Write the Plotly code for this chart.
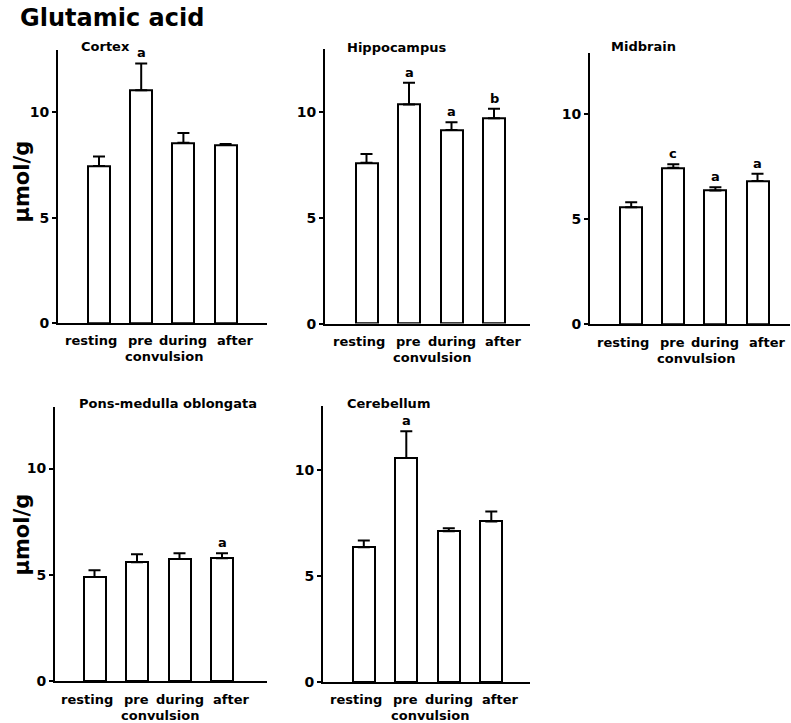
import plotly.graph_objects as go

# ---------------- data ----------------
categories = ["resting", "pre", "during", "after"]
group_label = "convulsion"
regions = ["Cortex", "Hippocampus", "Midbrain", "Pons-medulla oblongata", "Cerebellum"]

cortex_mean = [7.45, 11.05, 8.55, 8.45]
cortex_sem = [0.45, 1.27, 0.47, 0.05]
cortex_sig = ["", "a", "", ""]

hippocampus_mean = [7.6, 10.35, 9.15, 9.7]
hippocampus_sem = [0.42, 1.03, 0.37, 0.45]
hippocampus_sig = ["", "a", "a", "b"]

midbrain_mean = [5.55, 7.43, 6.35, 6.8]
midbrain_sem = [0.24, 0.16, 0.15, 0.34]
midbrain_sig = ["", "c", "a", "a"]

pons_mean = [4.9, 5.6, 5.75, 5.78]
pons_sem = [0.32, 0.37, 0.27, 0.24]
pons_sig = ["", "", "", "a"]

cerebellum_mean = [6.34, 10.55, 7.09, 7.56]
cerebellum_sem = [0.32, 1.26, 0.15, 0.47]
cerebellum_sig = ["", "a", "", ""]

y_ticks = [0, 5, 10]
title_text = "Glutamic acid"
y_title = "µmol/g"

# ---------------- layout helpers ----------------
# reference frame is 791 x 723; the figure is drawn slightly taller so that the
# photographed page maps 1:1 onto the reference frame
REF_W, REF_H = 791, 723
W, H = 791, 733
FONT = "DejaVu Sans"


def px(x):
    return x / REF_W


def py(y):
    return 1 - y / REF_H


# xl/xr: axis extent (px), c0: first bar centre (px), sp: bar spacing (px)
panels = [
    dict(xl=58, xr=267, c0=99.0, sp=42.2, base=322.0, unit=21.0, ytop=50, tx=79, ty=46),
    dict(xl=325, xr=530, c0=366.5, sp=42.5, base=322.7, unit=21.1, ytop=49, tx=345, ty=47),
    dict(xl=590, xr=790, c0=631.2, sp=42.1, base=323.3, unit=21.0, ytop=53, tx=609, ty=46),
    dict(xl=55, xr=267, c0=94.5, sp=42.5, base=679.3, unit=21.2, ytop=406, tx=77, ty=402),
    dict(xl=323, xr=530, c0=363.8, sp=42.5, base=680.0, unit=21.17, ytop=405, tx=345, ty=402),
]
# horizontal nudges (px) of the category labels, as in the reference
label_shift = [-8, -1, 0, 9]

means = [cortex_mean, hippocampus_mean, midbrain_mean, pons_mean, cerebellum_mean]
sems = [cortex_sem, hippocampus_sem, midbrain_sem, pons_sem, cerebellum_sem]
sigs = [cortex_sig, hippocampus_sig, midbrain_sig, pons_sig, cerebellum_sig]

small_font = dict(family=FONT, size=13, color="black", weight="bold")

fig = go.Figure()
annotations = []

for i, (p, m, s, sg, name) in enumerate(zip(panels, means, sems, sigs, regions)):
    n = i + 1
    xa = "x" if n == 1 else f"x{n}"
    ya = "y" if n == 1 else f"y{n}"
    fig.add_trace(go.Bar(
        x=list(range(len(categories))), y=m,
        width=22 / p["sp"],
        marker=dict(color="white", line=dict(color="black", width=2)),
        error_y=dict(type="data", symmetric=False, array=s, arrayminus=[0] * len(s),
                     color="black", thickness=2, width=6),
        xaxis=xa, yaxis=ya, showlegend=False, hoverinfo="skip",
    ))
    x_range = [(p["xl"] - p["c0"]) / p["sp"], (p["xr"] - p["c0"]) / p["sp"]]
    ymax = (p["base"] - p["ytop"]) / p["unit"]
    dom_x = [px(p["xl"]), px(p["xr"])]
    dom_y = [py(p["base"]), py(p["ytop"])]
    xkey = "xaxis" if n == 1 else f"xaxis{n}"
    ykey = "yaxis" if n == 1 else f"yaxis{n}"
    fig.layout[xkey] = dict(
        domain=dom_x, anchor=ya, range=x_range,
        showticklabels=False, ticks="",
        showline=True, linecolor="black", linewidth=2, showgrid=False, zeroline=False,
        fixedrange=True,
    )
    fig.layout[ykey] = dict(
        domain=dom_y, anchor=xa, range=[0, ymax],
        tickvals=y_ticks, ticks="outside", ticklen=4, tickwidth=1.5, tickcolor="black",
        showline=True, linecolor="black", linewidth=2, showgrid=False, zeroline=False,
        tickfont=dict(family=FONT, size=14, color="black", weight="bold"),
        fixedrange=True,
    )
    # category labels
    for j, cat in enumerate(categories):
        annotations.append(dict(
            x=j, xref=xa, y=py(p["base"] + 18), yref="paper", text=cat,
            xshift=label_shift[j], showarrow=False, xanchor="center", yanchor="middle",
            font=small_font,
        ))
    # group label under pre/during
    annotations.append(dict(
        x=1.5, xref=xa, y=py(p["base"] + 34), yref="paper", text=group_label,
        xshift=2, showarrow=False, xanchor="center", yanchor="middle",
        font=small_font,
    ))
    # panel title
    annotations.append(dict(
        x=px(p["tx"]), xref="paper", y=py(p["ty"]), yref="paper", text=name,
        showarrow=False, xanchor="left", yanchor="middle",
        font=small_font,
    ))
    # significance letters
    for j, letter in enumerate(sg):
        if letter:
            annotations.append(dict(
                x=j, xref=xa, y=m[j] + s[j], yref=ya, text=letter,
                showarrow=False, xanchor="center", yanchor="bottom", yshift=1,
                font=small_font,
            ))

# figure title
annotations.append(dict(
    x=px(19), xref="paper", y=py(18), yref="paper", text=title_text,
    showarrow=False, xanchor="left", yanchor="middle", borderpad=0,
    font=dict(family=FONT, size=24, color="black", weight="bold"),
))
# y axis titles (rows 1 and 2)
for yc in (181, 533):
    annotations.append(dict(
        x=px(22), xref="paper", y=py(yc), yref="paper", text=y_title,
        showarrow=False, textangle=-90, xanchor="center", yanchor="middle",
        font=dict(family=FONT, size=21, color="black", weight="bold"),
    ))

fig.update_layout(
    width=W, height=H,
    margin=dict(l=0, r=0, t=0, b=0),
    paper_bgcolor="white", plot_bgcolor="white",
    annotations=annotations,
    bargap=0,
)

# let the figure sit at the very top-left of the page (no default body margin)
page_fit = ("document.documentElement.style.margin='0';document.body.style.margin='0';"
            "document.documentElement.style.overflow='hidden';document.body.style.overflow='hidden';")
fig.write_html("out.html", post_script=page_fit, config={"displayModeBar": False})
